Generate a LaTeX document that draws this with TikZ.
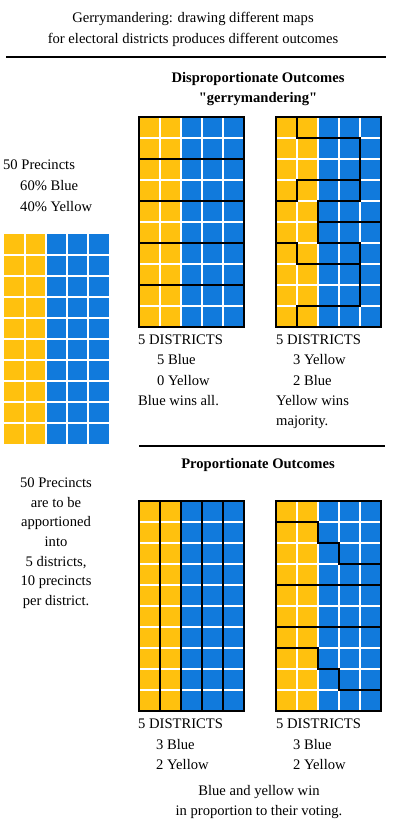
\documentclass[tikz,border=0pt]{standalone}
\usepackage{fontspec}
\setmainfont{Liberation Serif}
\usepackage{tikz}
\definecolor{precinctyellow}{RGB}{255,193,14}
\definecolor{precinctblue}{RGB}{17,122,220}

% 10 x 5 precincts, two yellow columns, three blue columns
\newcommand{\precincts}{%
  \fill[precinctyellow] (0,0) rectangle (2,10);
  \fill[precinctblue] (2,0) rectangle (5,10);
  \foreach \c in {1,...,4} \draw[gap] (\c,0) -- (\c,10);
  \foreach \r in {1,...,9} \draw[gap] (0,\r) -- (5,\r);
}

\begin{document}
\begin{tikzpicture}[x=1pt, y=-1pt,
    txt/.style={font=\fontsize{14.6}{17}\selectfont, inner sep=0pt, text height=12pt, text depth=1.5pt},
    lbl/.style={txt, anchor=west},
    head/.style={txt, font=\fontsize{14.6}{17}\selectfont\bfseries},
    gap/.style={white, line width=1.2pt},
    district/.style={black, line width=2pt},
    rule/.style={black, line width=2pt}]
  \useasboundingbox (0,0) rectangle (406,828);

  % Title
  \node[txt] (title1) at (193,17) {Gerrymandering: drawing different maps};
  \node[txt] (title2) at (193,38) {for electoral districts produces different outcomes};
  \draw[rule] (6,57) -- (386,57);

  % Left: all precincts
  \node[lbl] (count) at (3,164) {50 Precincts};
  \node[lbl] (share1) at (20,185) {60\% Blue};
  \node[lbl] (share2) at (20,206) {40\% Yellow};
  \begin{scope}[shift={(4,234)}, x=21pt, y=-21pt]
    \precincts
  \end{scope}
  \node[txt] (rule1) at (56,482) {50 Precincts};
  \node[txt] (rule2) at (56,502) {are to be};
  \node[txt] (rule3) at (56,521) {apportioned};
  \node[txt] (rule4) at (56,541) {into};
  \node[txt] (rule5) at (56,561) {5 districts,};
  \node[txt] (rule6) at (56,580) {10 precincts};
  \node[txt] (rule7) at (56,600) {per district.};

  % Top: disproportionate outcomes
  \node[head] (disp1) at (258,77) {Disproportionate Outcomes};
  \node[head] (disp2) at (258,97) {\textquotedbl gerrymandering\textquotedbl};
  \begin{scope}[shift={(139,117)}, x=21pt, y=-21pt]
    \precincts
    \foreach \r in {2,4,6,8} \draw[district] (0,\r) -- (5,\r);
    \draw[district] (0,0) rectangle (5,10);
  \end{scope}
  \node[lbl] (rowsA) at (138,339) {5 DISTRICTS};
  \node[lbl] (rowsB) at (157,359) {5 Blue};
  \node[lbl] (rowsC) at (157,380) {0 Yellow};
  \node[lbl] (rowsD) at (138,400) {Blue wins all.};
  \begin{scope}[shift={(276,117)}, x=21pt, y=-21pt]
    \precincts
    \draw[district] (1,0) -- (1,1) -- (4,1) -- (4,4) -- (2,4) -- (2,6) -- (4,6) -- (4,9) -- (1,9) -- (1,10);
    \draw[district] (0,4) -- (1,4) -- (1,3) -- (4,3);
    \draw[district] (2,5) -- (5,5);
    \draw[district] (0,6) -- (1,6) -- (1,7) -- (4,7);
    \draw[district] (0,0) rectangle (5,10);
  \end{scope}
  \node[lbl] (gerryA) at (276,339) {5 DISTRICTS};
  \node[lbl] (gerryB) at (293,359) {3 Yellow};
  \node[lbl] (gerryC) at (293,380) {2 Blue};
  \node[lbl] (gerryD) at (276,400) {Yellow wins};
  \node[lbl] (gerryE) at (276,420) {majority.};
  \draw[rule] (139,446) -- (385,446);

  % Bottom: proportionate outcomes
  \node[head] (prop) at (258,463) {Proportionate Outcomes};
  \begin{scope}[shift={(139,501)}, x=21pt, y=-21pt]
    \precincts
    \foreach \c in {1,...,4} \draw[district] (\c,0) -- (\c,10);
    \draw[district] (0,0) rectangle (5,10);
  \end{scope}
  \node[lbl] (colsA) at (138,723) {5 DISTRICTS};
  \node[lbl] (colsB) at (156,744) {3 Blue};
  \node[lbl] (colsC) at (156,764) {2 Yellow};
  \begin{scope}[shift={(276,501)}, x=21pt, y=-21pt]
    \precincts
    \draw[district] (0,1) -- (2,1) -- (2,2) -- (3,2) -- (3,3) -- (5,3);
    \draw[district] (0,4) -- (5,4);
    \draw[district] (0,6) -- (5,6);
    \draw[district] (0,7) -- (2,7) -- (2,8) -- (3,8) -- (3,9) -- (5,9);
    \draw[district] (0,0) rectangle (5,10);
  \end{scope}
  \node[lbl] (stepsA) at (276,723) {5 DISTRICTS};
  \node[lbl] (stepsB) at (293,744) {3 Blue};
  \node[lbl] (stepsC) at (293,764) {2 Yellow};
  \node[txt] (fair1) at (259,790) {Blue and yellow win};
  \node[txt] (fair2) at (259,810) {in proportion to their voting.};
\end{tikzpicture}
\end{document}
